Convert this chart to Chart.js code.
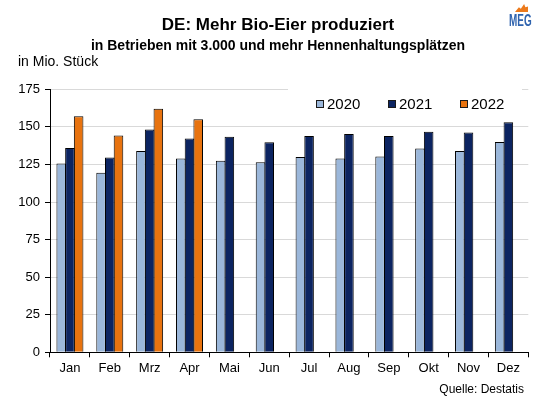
<!DOCTYPE html>
<html><head><meta charset="utf-8">
<script src="https://cdn.jsdelivr.net/npm/chart.js@4"></script>
<style>
html,body{margin:0;padding:0;background:#fff;}
#wrap{position:relative;width:539px;height:399px;overflow:hidden;font-family:"Liberation Sans",Arial,sans-serif;}
canvas{position:absolute;left:0;top:0;}
.t{position:absolute;line-height:1;white-space:nowrap;color:#000;}
</style></head><body>
<div id="wrap">
<canvas id="c" width="539" height="399"></canvas>
<div class="t" style="left:0;width:556px;text-align:center;top:16px;font-size:17px;font-weight:bold;">DE: Mehr Bio-Eier produziert</div>
<div class="t" style="left:0;width:556px;text-align:center;top:37.5px;font-size:14px;font-weight:bold;">in Betrieben mit 3.000 und mehr Hennenhaltungsplätzen</div>
<div class="t" style="left:18px;top:54px;font-size:14px;">in Mio. Stück</div>
<div class="t" style="right:15px;top:383px;font-size:12px;">Quelle: Destatis</div>
<div style="position:absolute;left:515px;top:4px;width:13px;height:8px;background:#ec7a1c;clip-path:polygon(0% 100%,30% 40%,45% 60%,70% 0%,80% 40%,100% 30%,100% 100%);"></div>
<div class="t" style="left:509px;top:13px;font-size:16px;font-weight:bold;color:#2f63ae;transform:scaleX(0.62);transform-origin:0 0;">MEG</div>
</div>
<script>
const categories = ['Jan','Feb','Mrz','Apr','Mai','Jun','Jul','Aug','Sep','Okt','Nov','Dez'];
const seriesLabels = ['2020','2021','2022'];
const values2020 = [125.7, 119.5, 134.0, 129.0, 127.5, 126.5, 130.0, 129.0, 130.3, 135.6, 134.0, 140.0];
const values2021 = [136.0, 129.7, 148.3, 142.2, 143.5, 139.7, 143.9, 145.3, 143.9, 146.7, 146.3, 153.0];
const values2022 = [157.0, 144.3, 162.1, 155.1, null, null, null, null, null, null, null, null];
const seriesColors = ['#9bb7da', '#0c2461', '#e8730f'];
const yMin = 0, yMax = 175, yStep = 25;

const FONT = '"Liberation Sans", Arial, sans-serif';

const legendPlugin = {
  id: 'innerLegend',
  afterDraw(chart) {
    const ctx = chart.ctx;
    ctx.save();
    ctx.fillStyle = '#fff';
    ctx.fillRect(288, 85, 234, 36);
    ctx.font = '15px ' + FONT;
    ctx.textBaseline = 'middle';
    chart.data.datasets.forEach((ds, i) => {
      const x = 316 + i * 72;
      ctx.fillStyle = ds.backgroundColor;
      ctx.fillRect(x + 0.5, 100.5, 7, 7);
      ctx.strokeStyle = '#1a1a1a';
      ctx.lineWidth = 1;
      ctx.strokeRect(x + 0.5, 100.5, 7, 7);
      ctx.fillStyle = '#000';
      ctx.fillText(ds.label, x + 11, 104.5);
    });
    ctx.restore();
  }
};

const seriesValues = [values2020, values2021, values2022];
new Chart(document.getElementById('c'), {
  type: 'bar',
  data: {
    labels: categories,
    datasets: seriesLabels.map((l, i) => ({
      label: l,
      data: seriesValues[i],
      backgroundColor: seriesColors[i],
      borderColor: '#000',
      borderWidth: 1,
      categoryPercentage: 0.655,
      barPercentage: 1.1
    }))
  },
  options: {
    responsive: false,
    animation: false,
    devicePixelRatio: 1,
    layout: { padding: { left: 0, right: 10.7, top: 89.3, bottom: 0 } },
    plugins: { legend: { display: false }, tooltip: { enabled: false } },
    scales: {
      x: {
        grid: { display: true, drawOnChartArea: false, drawTicks: true, tickLength: 5, tickColor: '#000', offset: true },
        border: { color: '#000', width: 1 },
        ticks: { font: { family: FONT, size: 13 }, color: '#000', padding: 3, maxRotation: 0, autoSkip: false },
        afterFit(s) { s.height = 46.7; }
      },
      y: {
        min: yMin, max: yMax,
        ticks: { stepSize: yStep, font: { family: FONT, size: 13 }, color: '#000', padding: 5 },
        grid: { color: '#d9d9d9', tickColor: '#000', tickLength: 5, lineWidth: 1 },
        border: { color: '#000', width: 1 },
        afterFit(s) { s.width = 50; }
      }
    }
  },
  plugins: [legendPlugin]
});
</script>
</body></html>
